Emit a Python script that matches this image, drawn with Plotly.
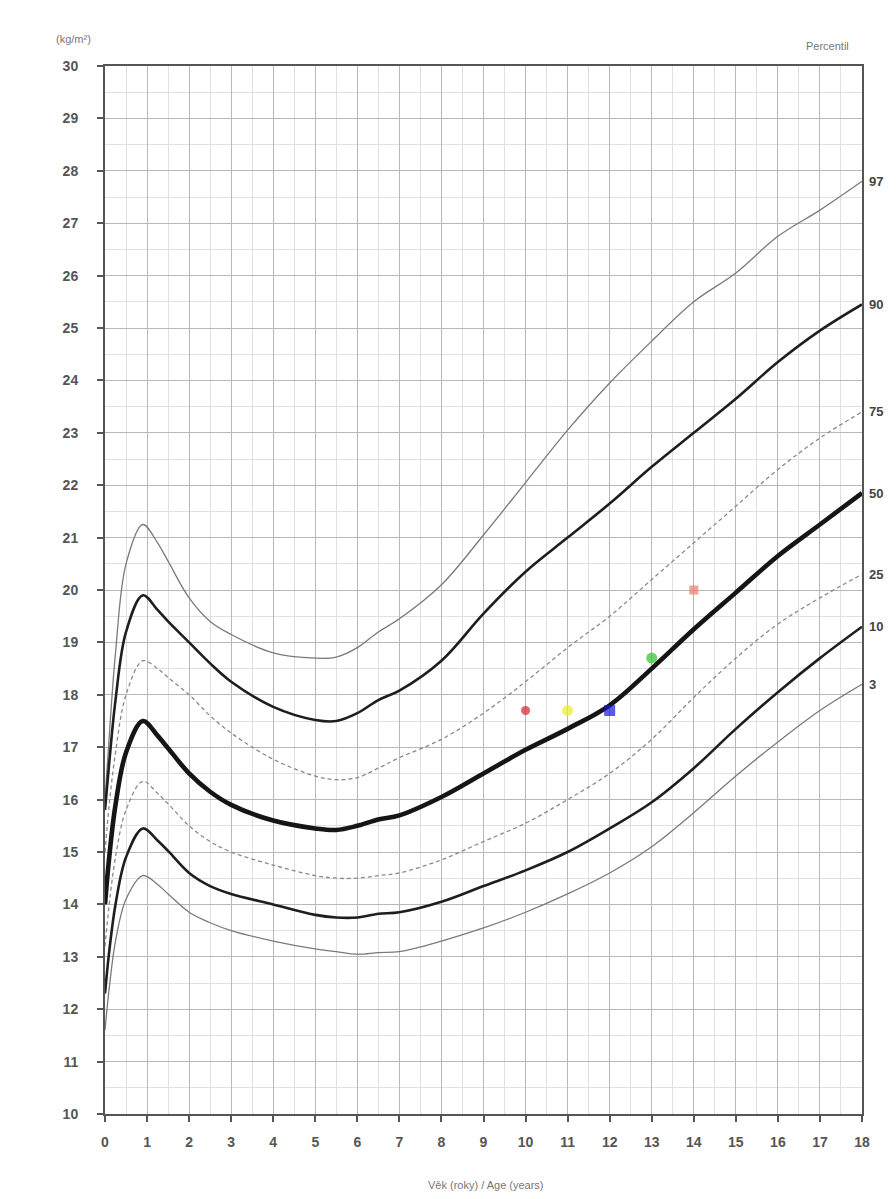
import plotly.graph_objects as go

# ---- data ----
ages = [0, 0.1, 0.25, 0.5, 0.9, 1.25, 1.5, 2, 2.5, 3, 4, 5, 5.5, 6, 6.5, 7, 8, 9, 10, 11, 12, 13, 14, 15, 16, 17, 18]

p97 = [16.0, 17.2, 18.8, 20.5, 21.25, 20.9, 20.55, 19.85, 19.4, 19.15, 18.8, 18.7, 18.72, 18.9, 19.2, 19.45, 20.1, 21.05, 22.05, 23.05, 23.95, 24.75, 25.5, 26.05, 26.75, 27.25, 27.8]
p90 = [15.8, 16.7, 17.9, 19.2, 19.9, 19.62, 19.4, 19.0, 18.6, 18.25, 17.77, 17.52, 17.5, 17.65, 17.9, 18.08, 18.65, 19.55, 20.35, 21.0, 21.65, 22.35, 23.0, 23.65, 24.35, 24.95, 25.45]
p75 = [15.0, 15.9, 16.9, 18.0, 18.65, 18.5, 18.33, 18.0, 17.6, 17.27, 16.77, 16.45, 16.38, 16.42, 16.6, 16.8, 17.15, 17.65, 18.25, 18.9, 19.5, 20.2, 20.9, 21.6, 22.3, 22.9, 23.4]
p50 = [14.0, 14.9, 15.9, 16.9, 17.5, 17.22, 16.98, 16.5, 16.15, 15.9, 15.6, 15.45, 15.42, 15.5, 15.62, 15.7, 16.05, 16.5, 16.95, 17.35, 17.8, 18.5, 19.25, 19.95, 20.65, 21.25, 21.85]
p25 = [13.2, 14.0, 14.9, 15.8, 16.35, 16.12, 15.92, 15.5, 15.2, 15.0, 14.75, 14.55, 14.5, 14.5, 14.55, 14.6, 14.85, 15.2, 15.55, 16.0, 16.5, 17.15, 17.95, 18.7, 19.35, 19.85, 20.3]
p10 = [12.3, 13.1, 14.0, 14.9, 15.45, 15.22, 15.02, 14.6, 14.35, 14.2, 14.0, 13.8, 13.75, 13.75, 13.82, 13.85, 14.05, 14.35, 14.65, 15.0, 15.45, 15.95, 16.6, 17.35, 18.05, 18.7, 19.3]
p3 = [11.6, 12.4, 13.3, 14.1, 14.55, 14.38, 14.2, 13.85, 13.65, 13.5, 13.3, 13.15, 13.1, 13.05, 13.08, 13.1, 13.3, 13.55, 13.85, 14.2, 14.6, 15.1, 15.75, 16.45, 17.1, 17.7, 18.2]

percentile_names = ["97", "90", "75", "50", "25", "10", "3"]

point_ages = [10, 11, 12, 13, 14]
point_bmi = [17.7, 17.7, 17.7, 18.7, 20.0]

x_ticks = list(range(0, 19))
y_ticks = list(range(10, 31))

# ---- styles ----
series = [p97, p90, p75, p50, p25, p10, p3]
styles = [
    dict(color="#7a7a7a", width=1.3, dash="solid"),
    dict(color="#1e1e1e", width=2.6, dash="solid"),
    dict(color="#8a8a8a", width=1.3, dash="4px,3px"),
    dict(color="#151515", width=4.6, dash="solid"),
    dict(color="#8a8a8a", width=1.3, dash="4px,3px"),
    dict(color="#1e1e1e", width=2.6, dash="solid"),
    dict(color="#7a7a7a", width=1.3, dash="solid"),
]

fig = go.Figure()
for name, vals, st in zip(percentile_names, series, styles):
    fig.add_trace(go.Scatter(
        x=ages, y=vals, mode="lines", name=name,
        line=dict(color=st["color"], width=st["width"], dash=st["dash"],
                  shape="spline", smoothing=1.0),
        hoverinfo="skip", showlegend=False,
    ))

point_colors = ["#d81f2a", "#eded2a", "#1616d8", "#2ec22e", "#f07a68"]
point_symbols = ["circle", "circle", "square", "circle", "square"]
point_sizes = [9, 11, 11, 11, 9]
fig.add_trace(go.Scatter(
    x=point_ages, y=point_bmi, mode="markers",
    marker=dict(color=point_colors, symbol=point_symbols, size=point_sizes,
                line=dict(width=0)),
    showlegend=False, hoverinfo="skip",
))

annotations = []
for name, vals in zip(percentile_names, series):
    annotations.append(dict(
        x=1, xref="paper", y=vals[-1], yref="y", text=name, showarrow=False,
        xanchor="left", yanchor="middle", xshift=5,
        font=dict(family="Liberation Sans", size=13, color="#444", weight="bold"),
    ))

annotations += [
    dict(x=-0.068, y=1.033, xref="paper", yref="paper", text="(kg/m²)",
         showarrow=False, font=dict(family="Liberation Sans", size=11, color="#777")),
    dict(x=0.985, y=1.027, xref="paper", yref="paper", text="Percentil",
         showarrow=False, font=dict(family="Liberation Sans", size=11, color="#777")),
    dict(x=0.503, y=-0.0754, xref="paper", yref="paper", text="Věk (roky) / Age (years)",
         showarrow=False, font=dict(family="Liberation Sans", size=11, color="#777")),
]

tickfont = dict(family="Liberation Sans", size=14, color="#555", weight="bold")

fig.update_layout(
    width=896, height=1199,
    margin=dict(l=97, r=42, t=58, b=93),
    paper_bgcolor="white", plot_bgcolor="white",
    annotations=annotations,
    xaxis=dict(
        range=[0, 18], tickmode="array", tickvals=x_ticks,
        ticktext=[str(v) for v in x_ticks],
        showgrid=True, gridcolor="#b8b8b8", gridwidth=1.2,
        minor=dict(tickmode="linear", tick0=0, dtick=0.5, showgrid=True,
                   gridcolor="#e0e0e0", gridwidth=1),
        showline=True, linecolor="#555", linewidth=2, mirror=True,
        ticks="outside", ticklen=6, tickcolor="#555", tickwidth=1.5,
        tickfont=tickfont, ticklabelstandoff=8, zeroline=False,
    ),
    yaxis=dict(
        range=[10, 30], tickmode="array", tickvals=y_ticks,
        ticktext=[str(v) for v in y_ticks],
        showgrid=True, gridcolor="#b8b8b8", gridwidth=1.2,
        minor=dict(tickmode="linear", tick0=10, dtick=0.5, showgrid=True,
                   gridcolor="#e0e0e0", gridwidth=1),
        showline=True, linecolor="#555", linewidth=2, mirror=True,
        ticks="outside", ticklen=6, tickcolor="#555", tickwidth=1.5,
        tickfont=tickfont, ticklabelstandoff=16, zeroline=False,
    ),
)

fig.write_html("out.html")
